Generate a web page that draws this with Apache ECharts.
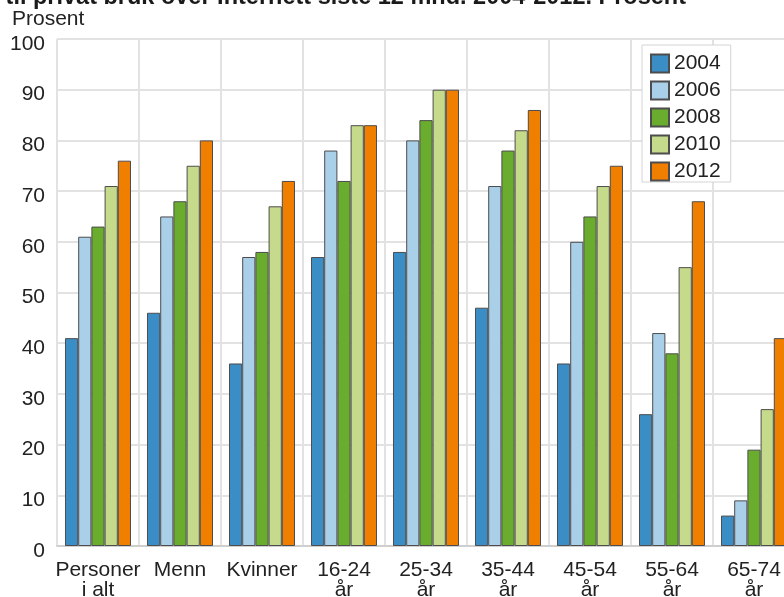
<!DOCTYPE html>
<html>
<head>
<meta charset="utf-8">
<script src="https://cdn.jsdelivr.net/npm/echarts@6/dist/echarts.min.js"></script>
<style>
  html, body { margin: 0; padding: 0; background: #fff; }
  #chart { width: 784px; height: 597px; }
</style>
</head>
<body>
<div id="chart"></div>
<script>
// Internet purchases for private use, last 12 months, by group and year (percent)
const categories = ['Personer\ni alt', 'Menn', 'Kvinner', '16-24\når', '25-34\når', '35-44\når', '45-54\når', '55-64\når', '65-74\når'];
const years = ['2004', '2006', '2008', '2010', '2012'];
const v2004 = [41, 46, 36, 57, 58, 47, 36, 26, 6];
const v2006 = [61, 65, 57, 78, 80, 71, 60, 42, 9];
const v2008 = [63, 68, 58, 72, 84, 78, 65, 38, 19];
const v2010 = [71, 75, 67, 83, 90, 82, 71, 55, 27];
const v2012 = [76, 80, 72, 83, 90, 86, 75, 68, 41];
const yTicks = [0, 10, 20, 30, 40, 50, 60, 70, 80, 90, 100];

const seriesValues = [v2004, v2006, v2008, v2010, v2012];
const colors = ['#3a8dc5', '#a9cfe9', '#6aad2e', '#c5da8b', '#f07f00'];
const FONT = "'Liberation Sans', Arial, sans-serif";

const chart = echarts.init(document.getElementById('chart'), null, { renderer: 'canvas' });

chart.setOption({
  animation: false,
  textStyle: { fontFamily: FONT },
  graphic: [
    {
      type: 'text', x: 686, y: 10,
      style: {
        text: 'til privat bruk over Internett siste 12 mnd. 2004-2012. Prosent',
        fontFamily: FONT, fontSize: 23.5, fontWeight: 'bold', fill: '#1a1a1a',
        align: 'right', verticalAlign: 'bottom'
      }
    },
    {
      type: 'text', x: 12, y: 19,
      style: {
        text: 'Prosent', fontFamily: FONT, fontSize: 21, fill: '#222',
        align: 'left', verticalAlign: 'middle'
      }
    }
  ],
  legend: {
    orient: 'vertical',
    left: 642, top: 45,
    icon: 'rect',
    itemWidth: 18, itemHeight: 18, itemGap: 6,
    padding: [8, 10, 0, 8],
    backgroundColor: '#fff',
    borderColor: '#d4d4d4', borderWidth: 1,
    textStyle: { fontFamily: FONT, fontSize: 21, color: '#222' },
    data: years
  },
  grid: { left: 57, top: 39, width: 738, height: 507, containLabel: false, outerBoundsMode: 'none' },
  xAxis: {
    type: 'category',
    data: categories,
    axisTick: { show: false },
    axisLine: { lineStyle: { color: '#cfcfcf', width: 2 } },
    splitLine: { show: true, lineStyle: { color: '#e2e2e2', width: 2 } },
    axisLabel: { interval: 0, color: '#222', fontSize: 21, lineHeight: 20, margin: 14, fontFamily: FONT }
  },
  yAxis: {
    type: 'value',
    min: yTicks[0], max: yTicks[yTicks.length - 1], interval: 10,
    axisLine: { show: false },
    axisTick: { show: false },
    splitLine: { lineStyle: { color: '#e2e2e2', width: 2 } },
    axisLabel: { color: '#222', fontSize: 21, margin: 12, verticalAlign: 'top', lineHeight: 10, fontFamily: FONT }
  },
  series: years.map((y, i) => ({
    name: y,
    type: 'bar',
    data: seriesValues[i],
    barGap: '0%',
    barCategoryGap: '19.5%',
    itemStyle: { color: colors[i], borderColor: '#4d4d4d', borderWidth: 1 }
  }))
});
</script>
</body>
</html>
